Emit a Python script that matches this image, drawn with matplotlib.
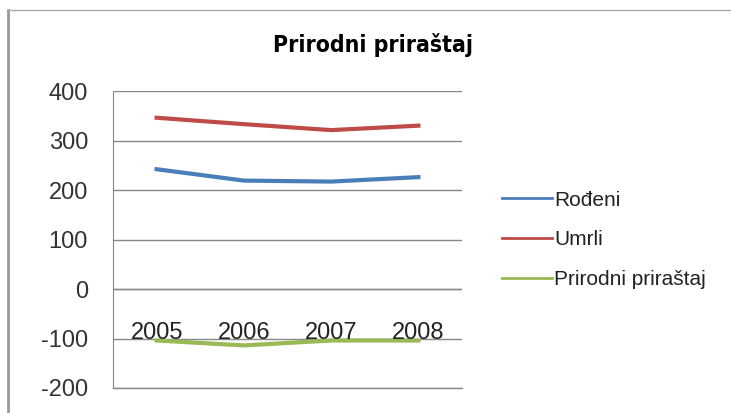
import matplotlib.pyplot as plt
from matplotlib.lines import Line2D

years = ["2005", "2006", "2007", "2008"]
rodjeni = [242, 219, 217, 226]
umrli = [346, 333, 321, 330]
prirastaj = [-104, -114, -104, -104]

plt.rcParams['font.family'] = ['Liberation Sans', 'DejaVu Sans']
plt.rcParams['axes.unicode_minus'] = False

fig = plt.figure(figsize=(7.31, 4.13), dpi=100)
ax = fig.add_axes([113 / 731, 1 - 388 / 413, 349 / 731, 297 / 413])

x = range(len(years))
ax.plot(x, rodjeni, color='#4a7ebb', linewidth=3, label='Rođeni')
ax.plot(x, umrli, color='#be4b48', linewidth=3, label='Umrli')
ax.plot(x, prirastaj, color='#98b954', linewidth=3, label='Prirodni priraštaj')

ax.set_xlim(-0.5, 3.5)
ax.set_ylim(-200, 400)
ax.set_yticks(range(-200, 401, 100))
ax.yaxis.grid(True, color='#888888', linewidth=1)
ax.set_axisbelow(True)
ax.tick_params(axis='y', length=0, pad=18, labelsize=17, colors='#333333')
ax.set_xticks([])
for s in ['top', 'right', 'bottom']:
    ax.spines[s].set_visible(False)
ax.spines['left'].set_color('#888888')
ax.axhline(0, color='#888888', linewidth=1)
ax.axhline(-200, color='#888888', linewidth=1, clip_on=False)

# category labels sit near -100, as in the original
for i, yr in enumerate(years):
    ax.text(i, -89, yr, ha='center', va='center', fontsize=17, color='#222222')

fig.text(373 / 731, 1 - 45 / 413, "Prirodni priraštaj", ha='center', va='center',
         fontsize=16.5, fontweight='bold', fontstretch='condensed', family='DejaVu Sans')

handles = [Line2D([], [], color=l.get_color(), linewidth=2) for l in ax.get_lines()[:3]]
labels = [l.get_label() for l in ax.get_lines()[:3]]
fig.legend(handles, labels, loc='center left', bbox_to_anchor=(502 / 731, 1 - 240 / 413),
           frameon=False, borderpad=0, borderaxespad=0,
           fontsize=15, handlelength=2.4, handletextpad=0.12, labelspacing=1.0,
           labelcolor='#222222')

# outer chart border
fig.add_artist(Line2D([8 / 731, 8 / 731], [0, 1 - 10 / 413], color='#999999', linewidth=2))
fig.add_artist(Line2D([8 / 731, 1], [1 - 10 / 413, 1 - 10 / 413], color='#aaaaaa', linewidth=1))

fig.savefig('out.png', dpi=100)
